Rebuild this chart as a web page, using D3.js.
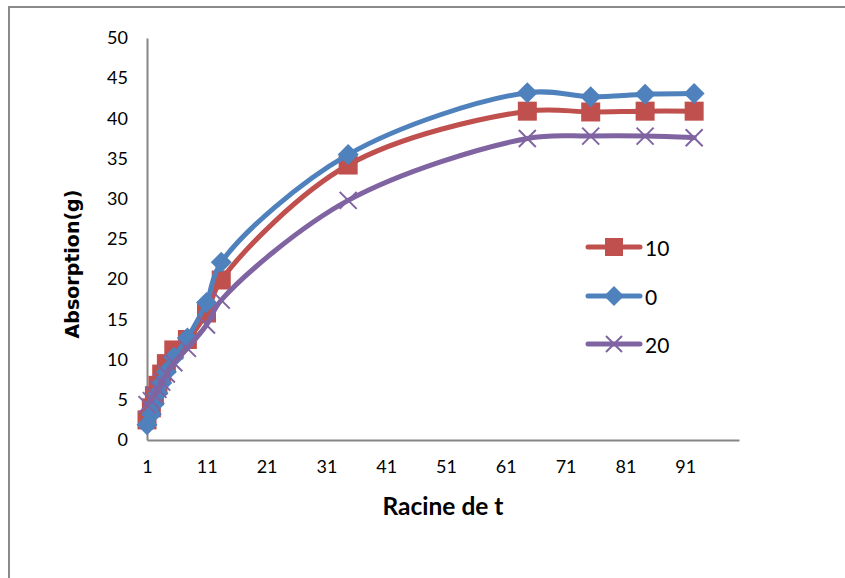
<!DOCTYPE html>
<html>
<head>
<meta charset="utf-8">
<script src="https://cdn.jsdelivr.net/npm/d3@7"></script>
<style>
  html, body { margin: 0; padding: 0; background: #fff; }
  svg { display: block; }
  text { font-family: Lato, "Open Sans", sans-serif; fill: #000; }
</style>
</head>
<body>
<svg id="chart" width="845" height="578"></svg>
<script>
// Racine de t (square root of time)
const racineT = [1, 1.73, 2.24, 2.83, 3.46, 4.24, 5.48, 7.75, 10.95, 13.42, 34.64, 64.6, 75.2, 84.3, 92.5];

// Absorption (g) for each series
const serie10 = [2.5, 4.0, 5.5, 6.8, 8.2, 9.5, 11.2, 12.5, 15.8, 19.9, 34.2, 40.9, 40.8, 40.9, 40.9];
const serie0  = [1.9, 3.2, 4.5, 5.8, 7.1, 8.5, 10.3, 12.7, 17.1, 22.1, 35.5, 43.2, 42.7, 43.0, 43.1];
const serie20 = [4.4, 4.9, 5.6, 6.3, 7.2, 8.2, 9.6, 11.4, 14.3, 17.4, 29.8, 37.5, 37.8, 37.8, 37.6];

const seriesNames = ["10", "0", "20"];
const xTicks = [1, 11, 21, 31, 41, 51, 61, 71, 81, 91];
const yTicks = [0, 5, 10, 15, 20, 25, 30, 35, 40, 45, 50];

const series = [
  { name: seriesNames[0], values: serie10, color: "#c0504d", marker: "square" },
  { name: seriesNames[1], values: serie0,  color: "#4f81bd", marker: "diamond" },
  { name: seriesNames[2], values: serie20, color: "#8064a2", marker: "cross" }
];

const svg = d3.select("#chart");
svg.append("rect").attr("width", 845).attr("height", 578).attr("fill", "#fff");

// outer chart frame (left and top edges)
svg.append("path")
  .attr("d", "M9,578V7H845")
  .attr("fill", "none")
  .attr("stroke", "#8a8a8a")
  .attr("stroke-width", 2);

const x = d3.scaleLinear().domain([1, 100]).range([147, 739]);
const y = d3.scaleLinear().domain([0, 50]).range([440, 38]);

const axisColor = "#868686";

// y axis
const gy = svg.append("g").attr("transform", `translate(${x(1)},0)`)
  .call(d3.axisLeft(y).tickValues(yTicks).tickSize(0).tickPadding(19));
gy.select(".domain").attr("stroke", axisColor).attr("stroke-width", 2);
gy.selectAll("text").attr("font-size", 18).style("font-family", "Lato, sans-serif");

// x axis
const gx = svg.append("g").attr("transform", `translate(0,${y(0)})`)
  .call(d3.axisBottom(x).tickValues(xTicks).tickSize(0).tickPadding(20).tickFormat(d3.format("d")));
gx.select(".domain").attr("stroke", axisColor).attr("stroke-width", 2);
gx.selectAll("text").attr("font-size", 18).style("font-family", "Lato, sans-serif");

// axis titles
svg.append("text")
  .attr("x", 443).attr("y", 505)
  .attr("text-anchor", "middle").attr("dominant-baseline", "central")
  .attr("font-size", 24.5).attr("font-weight", "bold")
  .text("Racine de t");

svg.append("text")
  .attr("transform", "translate(72,264) rotate(-90)")
  .attr("text-anchor", "middle").attr("dominant-baseline", "central")
  .attr("font-size", 19).attr("font-weight", "bold")
  .style("font-family", "'DejaVu Sans', Verdana, sans-serif")
  .text("Absorption(g)");

// marker drawing helper
function drawMarker(g, kind, color, cx, cy, s) {
  if (kind === "square") {
    g.append("rect")
      .attr("x", cx - s / 2).attr("y", cy - s / 2)
      .attr("width", s).attr("height", s)
      .attr("fill", color);
  } else if (kind === "diamond") {
    const h = s / 2 + 1;
    g.append("path")
      .attr("d", `M${cx},${cy - h}L${cx + h},${cy}L${cx},${cy + h}L${cx - h},${cy}Z`)
      .attr("fill", color);
  } else {
    const h = s / 2 - 1;
    g.append("path")
      .attr("d", `M${cx - h},${cy - h}L${cx + h},${cy + h}M${cx - h},${cy + h}L${cx + h},${cy - h}`)
      .attr("stroke", color).attr("stroke-width", 2).attr("fill", "none");
  }
}

const line = d3.line()
  .x(d => x(d[0]))
  .y(d => y(d[1]))
  .curve(d3.curveCatmullRom.alpha(0.5));

series.forEach(s => {
  const pts = racineT.map((t, i) => [t, s.values[i]]);
  const g = svg.append("g");
  g.append("path")
    .attr("d", line(pts))
    .attr("fill", "none")
    .attr("stroke", s.color)
    .attr("stroke-width", 5)
    .attr("stroke-linejoin", "round")
    .attr("stroke-linecap", "round");
  pts.forEach(p => drawMarker(g, s.marker, s.color, x(p[0]), y(p[1]), 19));
});

// legend
const legendY = [247, 296, 344];
series.forEach((s, i) => {
  const g = svg.append("g");
  g.append("line")
    .attr("x1", 588).attr("x2", 640)
    .attr("y1", legendY[i]).attr("y2", legendY[i])
    .attr("stroke", s.color).attr("stroke-width", 5)
    .attr("stroke-linecap", "round");
  drawMarker(g, s.marker, s.color, 614, legendY[i], 18);
  g.append("text")
    .attr("x", 645).attr("y", legendY[i])
    .attr("dominant-baseline", "central")
    .attr("font-size", 21)
    .text(s.name);
});
</script>
</body>
</html>
